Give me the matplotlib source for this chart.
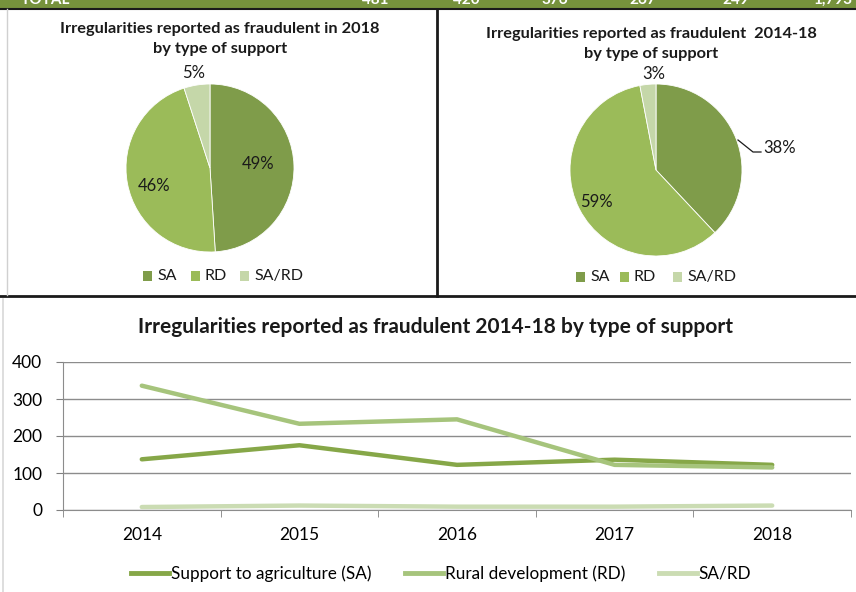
import numpy as np
import matplotlib
matplotlib.use("Agg")
import matplotlib.pyplot as plt
from matplotlib.lines import Line2D
from matplotlib.patches import Rectangle

plt.rcParams['font.family'] = ['Lato', 'DejaVu Sans']

# data
years = ['2014', '2015', '2016', '2017', '2018']
sa = [137, 175, 122, 136, 122]
rd = [336, 233, 245, 122, 115]
sard = [8, 12, 9, 9, 12]

pie_labels = ['SA', 'RD', 'SA/RD']
pie_2018 = [49, 46, 5]
pie_1418 = [38, 59, 3]

total_row = ['TOTAL', '481', '420', '376', '267', '249', '1,793']

pie_colors = ['#7f9c4a', '#9bbb59', '#c5d7a9']
line_colors = ['#86a748', '#a6c47c', '#cbdcb3']

W, H = 856, 592
fig = plt.figure(figsize=(W / 100, H / 100), dpi=100)


def px(x, y, w, h):
    # pixel box (top-left origin) -> figure fraction
    return [x / W, 1 - (y + h) / H, w / W, h / H]


# background frame pieces
bg = fig.add_axes([0, 0, 1, 1])
bg.set_xlim(0, W)
bg.set_ylim(H, 0)
bg.axis('off')
bg.add_patch(Rectangle((0, 0), W, 7.5, color='#76923c', lw=0))
bg.plot([0, W], [8.5, 8.5], color='#1a1a1a', lw=1.5)
bg.plot([0, W], [296, 296], color='#1a1a1a', lw=2)
bg.plot([437, 437], [9, 296], color='#1a1a1a', lw=2)
bg.plot([7, 7], [9, 295], color='#d0d0d0', lw=1)
bg.plot([3, 3], [299, H], color='#d8d8d8', lw=1.2)
tx = [70, 389, 480, 568, 656, 749, 852]
for i, t in enumerate(total_row):
    bg.text(tx[i], 4, t, color='white', fontsize=11, fontweight='bold',
            ha='right', va='baseline', clip_on=True)


def draw_pie(box, values, title, title_xy, lab_pos, leg_x, leg_y, leader=None):
    ax = fig.add_axes(px(*box))
    ax.pie(values, colors=pie_colors, startangle=90, counterclock=False,
           radius=1, wedgeprops=dict(lw=0.6, edgecolor='white'))
    ax.set_xlim(-1, 1)
    ax.set_ylim(-1, 1)
    ax.set_aspect('equal')
    for v, (lx, ly) in zip(values, lab_pos):
        ax.text(lx, ly, f'{v}%', ha='center', va='center', fontsize=12,
                color='#1a1a1a', clip_on=False)
    if leader is not None:
        ax.plot(leader[0], leader[1], color='#1a1a1a', lw=0.9, clip_on=False)
    bg.text(title_xy[0], title_xy[1], title, ha='center', va='center',
            fontsize=11.8, fontweight='bold', linespacing=1.55, color='#1a1a1a')
    for c, lab, x in zip(pie_colors, pie_labels, leg_x):
        bg.add_patch(Rectangle((x, leg_y - 5), 9, 10, color=c, lw=0))
        bg.text(x + 14, leg_y, lab, ha='left', va='center', fontsize=11.5,
                color='#1a1a1a')


draw_pie((126, 84, 168, 168), pie_2018,
         'Irregularities reported as fraudulent in 2018\nby type of support',
         (220, 39), [(0.57, 0.05), (-0.67, -0.21), (-0.2, 1.13)],
         [143, 191, 240], 276)

r2 = 86
leader = ([(738 - 656) / r2, (753 - 656) / r2, (761 - 656) / r2],
          [(170 - 140) / r2, (170 - 152) / r2, (170 - 152) / r2])
draw_pie((570, 84, 172, 172), pie_1418,
         'Irregularities reported as fraudulent  2014-18\nby type of support',
         (651, 44), [(1.44, 0.26), (-0.69, -0.37), (-0.03, 1.12)],
         [576, 620, 673], 277, leader=leader)

# line chart
ax = fig.add_axes(px(63, 362, 788, 148))
x = np.arange(len(years))
for vals, c in zip([sa, rd, sard], line_colors):
    ax.plot(x, vals, color=c, lw=3.2, solid_capstyle='round', zorder=3)
ax.set_xlim(-0.5, len(years) - 0.5)
ax.set_ylim(0, 400)
ax.set_yticks([0, 100, 200, 300, 400])
ax.set_xticks(x)
ax.set_xticklabels(years)
ax.set_xticks(np.arange(-0.5, len(years)), minor=True)
ax.tick_params(axis='x', which='major', length=0, pad=12, labelsize=12.5)
ax.tick_params(axis='x', which='minor', length=5, color='#808080')
ax.tick_params(axis='y', length=5, color='#808080', labelsize=12.5, pad=10)
ax.grid(axis='y', color='#8c8c8c', lw=1)
ax.set_axisbelow(True)
for s in ['top', 'right']:
    ax.spines[s].set_visible(False)
for s in ['left', 'bottom']:
    ax.spines[s].set_color('#8c8c8c')
bg.text(436, 327, 'Irregularities reported as fraudulent 2014-18 by type of support',
        ha='center', va='center', fontsize=15, fontweight='bold', color='#1a1a1a')

handles = [Line2D([], [], color=c, lw=3.5) for c in line_colors]
ax.legend(handles, ['Support to agriculture (SA)', 'Rural development (RD)', 'SA/RD'],
          loc='center', bbox_to_anchor=(0.48, -0.43), ncol=3, frameon=False,
          fontsize=12.3, handlelength=2.2, handletextpad=0.1, columnspacing=2.0)

fig.savefig('out.png', dpi=100)
